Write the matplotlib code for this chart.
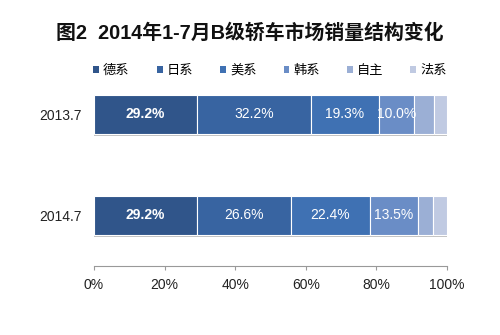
import matplotlib.pyplot as plt
import matplotlib.patheffects as pe
from matplotlib.patches import Patch
import numpy as np

plt.rcParams['font.family'] = ['Liberation Sans', 'Noto Sans CJK SC', 'DejaVu Sans']

# data (percent share)
periods = ['2014.7', '2013.7']
series = ['德系', '日系', '美系', '韩系', '自主', '法系']
share_2013 = [29.2, 32.2, 19.3, 10.0, 5.6, 3.7]
share_2014 = [29.2, 26.6, 22.4, 13.5, 4.2, 4.1]
colors = ['#30558a', '#3864a1', '#3f71b3', '#6a8dc6', '#9bafd5', '#c0cae2']
labelled = 4  # only first four segments carry a value label

values = np.array([share_2014, share_2013])

fig = plt.figure(figsize=(5, 3.35), dpi=100)
ax = fig.add_axes([0.188, 0.206, 0.706, 0.603])

y = np.arange(len(periods))
left = np.zeros(len(periods))
for i, name in enumerate(series):
    bars = ax.barh(y, values[:, i], left=left, height=0.386, color=colors[i],
                   edgecolor='white', linewidth=0.8, zorder=3)
    for b in bars:
        b.set_path_effects([pe.SimplePatchShadow(offset=(0, -1.5), shadow_rgbFace='#999999', alpha=0.6),
                            pe.Normal()])
    if i < labelled:
        for j, v in enumerate(values[:, i]):
            ax.text(left[j] + v / 2, y[j], f'{v:.1f}%', ha='center', va='center',
                    color='white', fontsize=10,
                    fontweight='bold' if i == 0 else 'normal', zorder=4)
    left += values[:, i]

ax.set_xlim(0, 100)
ax.set_ylim(-0.5, 1.5)
ax.set_xticks(np.arange(0, 101, 20))
ax.set_xticklabels([f'{t}%' for t in range(0, 101, 20)], fontsize=10, color='#222222')
ax.set_yticks(y)
ax.set_yticklabels(periods, fontsize=10, color='#222222')
ax.tick_params(axis='y', length=0, pad=9)
ax.tick_params(axis='x', direction='out', length=3, color='#999999', pad=6)
for s in ['left', 'right', 'top']:
    ax.spines[s].set_visible(False)
ax.spines['bottom'].set_color('#999999')

handles = [Patch(facecolor=c, edgecolor='none') for c in colors]
fig.legend(handles, series, loc='center', bbox_to_anchor=(0.54, 0.788), ncol=6,
           frameon=False, fontsize=9.5, handlelength=0.45, handleheight=0.45,
           handletextpad=0.3, columnspacing=2.05)

fig.text(0.5, 0.9, '图2  2014年1-7月B级轿车市场销量结构变化', ha='center', va='center',
         fontsize=14.3, fontweight='bold', color='#111111')

fig.savefig('out.png', dpi=100)
